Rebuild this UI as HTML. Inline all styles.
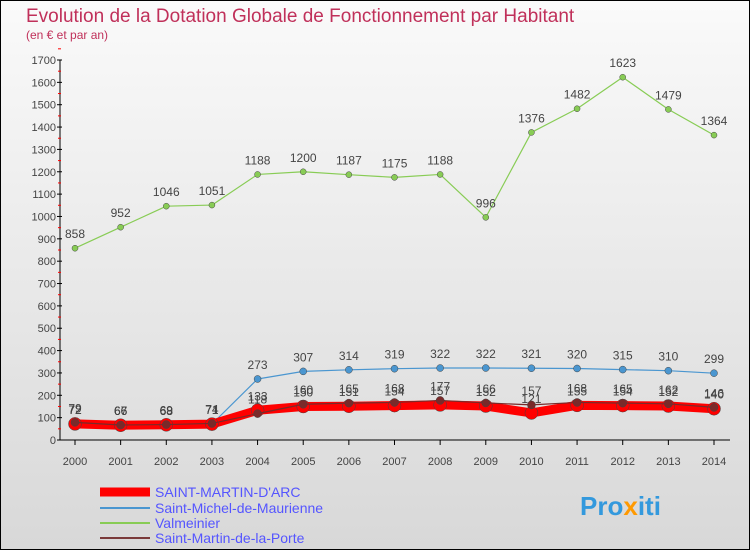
<!DOCTYPE html>
<html><head><meta charset="utf-8"><style>
body{margin:0;}
#c{width:750px;height:550px;position:relative;overflow:hidden;font-family:"Liberation Sans",sans-serif;}
</style></head><body>
<div id="c">
<svg width="750" height="550" xmlns="http://www.w3.org/2000/svg" id="svg">
<defs><linearGradient id="bg" x1="0" y1="0" x2="0" y2="1"><stop offset="0" stop-color="#fafafa"/><stop offset="1" stop-color="#d8d8d8"/></linearGradient></defs>
<rect x="0.5" y="0.5" width="749" height="549" fill="url(#bg)" stroke="#000"/>
<text x="26" y="22" font-size="19" fill="#c0305a">Evolution de la Dotation Globale de Fonctionnement par Habitant</text>
<text x="26" y="39" font-size="12" fill="#c0305a">(en € et par an)</text>
<g id="axes"></g><g id="series"></g>
<g>
<line x1="100" y1="492" x2="150" y2="492" stroke="#ff0000" stroke-width="9"/>
<text x="155" y="497" font-size="14" fill="#5555ff">SAINT-MARTIN-D'ARC</text>
<line x1="100" y1="508" x2="150" y2="508" stroke="#4a96d0" stroke-width="2"/>
<text x="155" y="513" font-size="14" fill="#5555ff">Saint-Michel-de-Maurienne</text>
<line x1="100" y1="523" x2="150" y2="523" stroke="#88cc55" stroke-width="2"/>
<text x="155" y="528" font-size="14" fill="#5555ff">Valmeinier</text>
<line x1="100" y1="538" x2="150" y2="538" stroke="#7a3a3a" stroke-width="2"/>
<text x="155" y="543" font-size="14" fill="#5555ff">Saint-Martin-de-la-Porte</text>
</g>
<text x="580" y="515" font-size="26" font-weight="bold" fill="#3399dd">Pro<tspan fill="#ff9900">x</tspan>iti</text>
</svg>
</div>
<script>
const years=[2000,2001,2002,2003,2004,2005,2006,2007,2008,2009,2010,2011,2012,2013,2014];
const valmeinier=[858,952,1046,1051,1188,1200,1187,1175,1188,996,1376,1482,1623,1479,1364];
const stMichel=[72,66,68,71,273,307,314,319,322,322,321,320,315,310,299];
const stMartinArc=[72,66,68,71,133,150,151,154,157,152,121,155,154,152,140];
const stMartinPorte=[79,67,69,74,118,160,165,168,177,166,157,168,165,162,146];
const yTicks=[0,100,200,300,400,500,600,700,800,900,1000,1100,1200,1300,1400,1500,1600,1700];
const NS="http://www.w3.org/2000/svg";
const X=i=>75+i*(714-75)/(years.length-1);
const Y=v=>440-v*380/1700;
function mk(tag,a,p){const e=document.createElementNS(NS,tag);for(const k in a)e.setAttribute(k,a[k]);p.appendChild(e);return e;}
const ax=document.getElementById('axes'),sr=document.getElementById('series');
mk('line',{x1:60,y1:Y(1700),x2:60,y2:440,stroke:'#000'},ax);
mk('line',{x1:60,y1:440,x2:730,y2:440,stroke:'#000'},ax);
yTicks.forEach(v=>{
 mk('line',{x1:57,y1:Y(v),x2:62,y2:Y(v),stroke:'#000'},ax);
 mk('line',{x1:58,y1:Y(v+50),x2:61,y2:Y(v+50),stroke:'#f00'},ax);
 const t=mk('text',{x:56,y:Y(v)+4,'font-size':11,fill:'#444','text-anchor':'end'},ax);
 t.textContent=v;
 
 
});
years.forEach((y,i)=>{
 mk('line',{x1:X(i),y1:440,x2:X(i),y2:445,stroke:'#000'},ax);
 const t=mk('text',{x:X(i),y:465,'font-size':11,fill:'#444','text-anchor':'middle'},ax);
 t.textContent=y;
 
 
});
function series(vals,color,w,r,name,labels){
 const g=mk('g',{},sr);
 
 
 mk('polyline',{points:vals.map((v,i)=>X(i)+','+Y(v)).join(' '),fill:'none',stroke:color,'stroke-width':w,'stroke-linejoin':'round'},g);
 vals.forEach((v,i)=>{
  const c=mk('circle',{cx:X(i),cy:Y(v),r:r,fill:color,stroke:'#444','stroke-width':0.5},g);
  
  
  if(labels){const t=mk('text',{x:X(i),y:Y(v)-10,'font-size':12,fill:'#444','text-anchor':'middle'},g);t.textContent=v;}
 });
}
series(valmeinier,'#88cc55',1.2,3,'series-valmeinier',true);
series(stMichel,'#4a96d0',1.2,3.5,'series-saint-michel',true);
series(stMartinArc,'#ff0000',9,6.5,'series-saint-martin-d-arc',true);
series(stMartinPorte,'#7a2a2a',1.2,4,'series-saint-martin-porte',true);
</script>
</body></html>
